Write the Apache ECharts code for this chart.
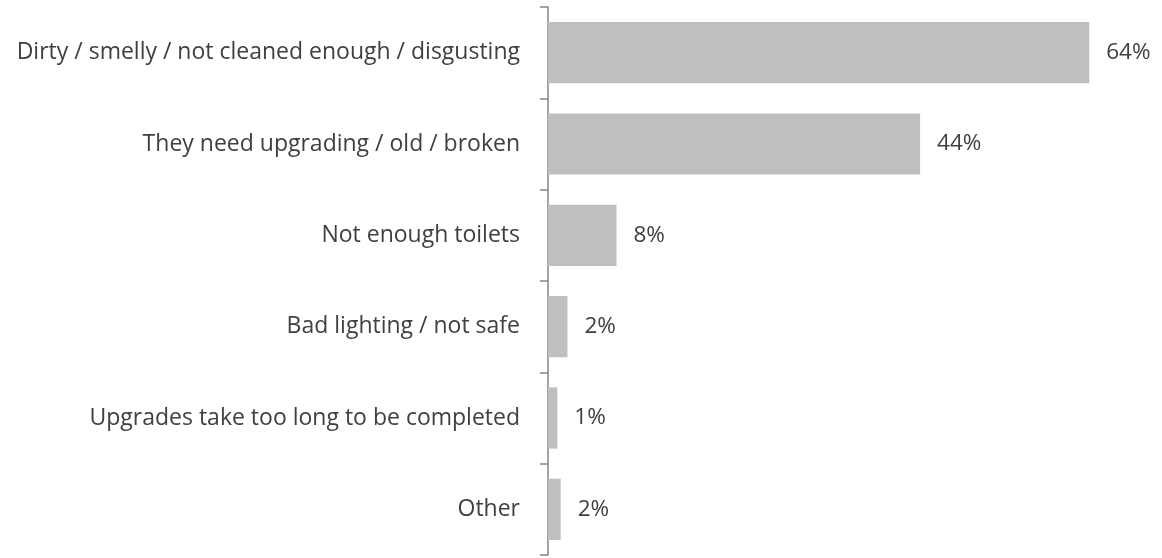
<!DOCTYPE html>
<html><head><meta charset="utf-8">
<script src="https://cdn.jsdelivr.net/npm/echarts@6/dist/echarts.min.js"></script>
<style>html,body{margin:0;padding:0;background:#fff}#c{width:1162px;height:558px}</style>
</head><body><div id="c"></div>
<script>
var categories = ["Dirty / smelly / not cleaned enough / disgusting","They need upgrading / old / broken","Not enough toilets","Bad lighting / not safe","Upgrades take too long to be completed","Other"];
var values = [64, 44, 8.1, 2.3, 1.1, 1.5];
var chart = echarts.init(document.getElementById('c'));
chart.setOption({
  animation:false,
  grid:{left:548,top:7,bottom:3,right:22},
  xAxis:{type:'value',min:0,max:70,show:false},
  yAxis:{type:'category',inverse:true,data:categories,
    axisLine:{lineStyle:{color:'#868686',width:1.5}},
    axisTick:{show:true,length:8,lineStyle:{color:'#868686',width:1.5}},
    axisLabel:{color:'#404040',fontSize:23,fontFamily:'Open Sans',margin:28,padding:[6,0,0,0]}},
  series:[{type:'bar',data:values,barCategoryGap:'33%',
    itemStyle:{color:'#bfbfbf'},
    label:{show:true,position:'right',distance:17,color:'#404040',fontSize:22.5,fontFamily:'Open Sans',padding:[6,0,0,0],
      formatter:function(p){return Math.round(p.value)+'%';}}}]
});
</script></body></html>
